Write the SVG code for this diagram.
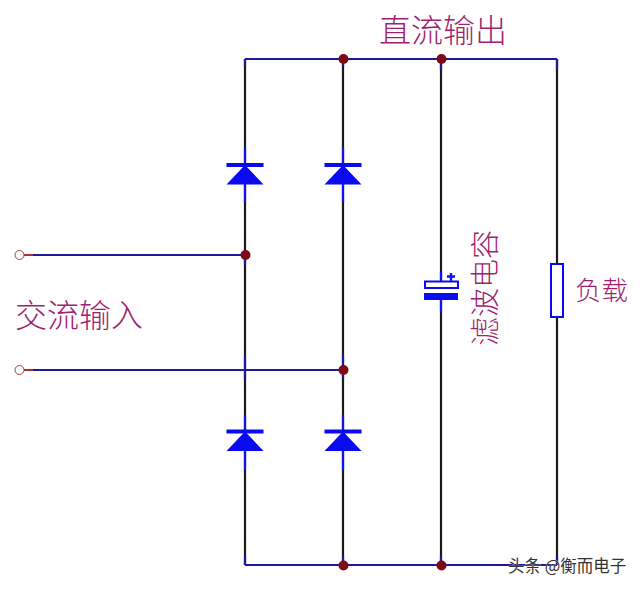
<svg xmlns="http://www.w3.org/2000/svg" width="640" height="589" viewBox="0 0 640 589">
<style>
.w{fill:none;stroke:#1a1a9a;stroke-width:2.200}
.k{fill:none;stroke:#1a1a1a;stroke-width:2.200}
.b{fill:none;stroke:#1212e6;stroke-width:2.400}
.bar{fill:#0a0af0}
.j{fill:#7d0a14}
.t{font-family:"Noto Sans CJK SC","Noto Sans CJK JP",sans-serif;font-weight:300;fill:#a01f70}
.m{font-family:"Noto Sans CJK SC","Noto Sans CJK JP",sans-serif;font-size:16.500px;fill:#333;stroke:#fff;stroke-width:.4;paint-order:stroke}
</style>
<defs>
<g id="diode"><rect class="bar" x="-18.500" y="-2" width="37" height="4"/><path class="bar" d="M0 0L18.500 19.500H-18.500Z"/></g>
</defs>
<rect width="640" height="589" fill="#fff"/>
<g id="connectors">
<path class="k" d="M245 59V147M343 59V147M245 202V415M343 202V415M441 59V272M441 312V565M557 59V264M557 317V565M245 470V565M343 470V565"/>
<path class="w" d="M245 59H557M245 565H557M33 255H245M33 370H343M245 59V66M343 59V66M441 59V70M557 59V70M245 565V556M343 565V556M441 565V556M557 565V556M245 255V265M245 355V379M343 355V379"/>
<path class="b" d="M245 147V202M343 147V202M245 415V470M343 415V470M441 272V281M441 300V312"/>
<path stroke="#a83030" stroke-width="2" fill="none" d="M24 255H33M24 370H33"/>
</g>
<g id="input-ac-1"><circle cx="19.500" cy="255" r="4.500" fill="#fff" stroke="#8a4a3a" stroke-width="1"/></g>
<g id="input-ac-2"><circle cx="19.500" cy="370" r="4.500" fill="#fff" stroke="#8a4a3a" stroke-width="1"/></g>
<g id="d1"><use href="#diode" x="245" y="165"/></g>
<g id="d2"><use href="#diode" x="343" y="165"/></g>
<g id="d3"><use href="#diode" x="245" y="431.500"/></g>
<g id="d4"><use href="#diode" x="343" y="431.500"/></g>
<g id="capacitor">
<rect x="425" y="281.500" width="33" height="6.500" fill="#fff" stroke="#0a0af0" stroke-width="2"/>
<rect class="bar" x="424" y="293" width="34" height="7"/>
<path class="b" d="M451 273V281M447 276.500H455"/>
</g>
<g id="load"><rect x="551" y="264" width="12" height="53" fill="#fff" stroke="#0a0af0" stroke-width="2"/></g>
<g id="junctions">
<circle class="j" cx="343.500" cy="59" r="5"/><circle class="j" cx="441.500" cy="59" r="5"/>
<circle class="j" cx="245.500" cy="255" r="5"/><circle class="j" cx="343.500" cy="370" r="5"/>
<circle class="j" cx="343.500" cy="565.500" r="5"/><circle class="j" cx="441.500" cy="565.500" r="5"/>
</g>
<g id="labels">
<text class="t" x="379" y="42" font-size="32">直流输出</text>
<text class="t" x="15" y="327" font-size="32">交流输入</text>
<text class="t" x="575" y="300" font-size="26.500">负载</text>
<text class="t" transform="translate(496,346) rotate(-90)" font-size="29">滤波电容</text>
<text class="m" x="508" y="572">头条 @衡而电子</text>
</g>
</svg>
